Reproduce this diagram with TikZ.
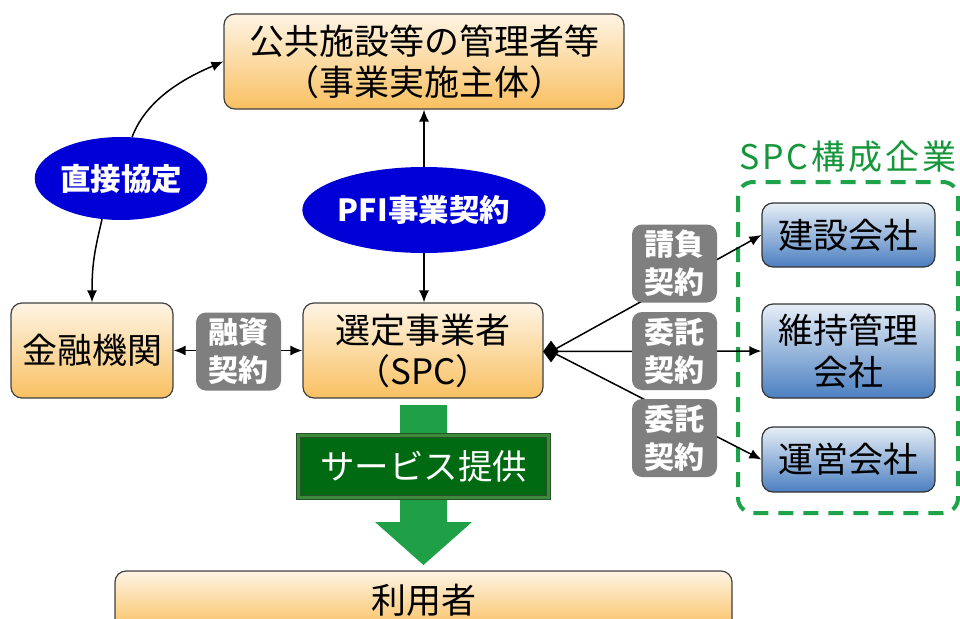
\documentclass[tikz,border=0pt]{standalone}
\usepackage{fontspec}
\setmainfont{Noto Sans CJK JP}
\usetikzlibrary{shapes.geometric,arrows.meta}
\definecolor{orTop}{HTML}{FEF4E4}
\definecolor{orBot}{HTML}{F9C061}
\definecolor{blTop}{HTML}{E6EEF7}
\definecolor{blBot}{HTML}{4B7FC0}
\definecolor{ellBlue}{HTML}{0000D6}
\definecolor{lblGray}{HTML}{7F7F7F}
\definecolor{dashGreen}{HTML}{1EA34B}
\definecolor{arrGreen}{HTML}{1FA047}
\definecolor{boxGreen}{HTML}{006A12}
\definecolor{bevGreen}{HTML}{3D8A3D}
\definecolor{txtGreen}{HTML}{15963A}
\tikzset{
  obox/.style={draw=black!75, line width=1.2pt, rounded corners=11pt, top color=orTop, bottom color=orBot,
    align=center, font=\fontsize{35}{41}\selectfont, inner sep=0pt},
  bbox/.style={draw=black!80, line width=1.2pt, rounded corners=11pt, top color=blTop, bottom color=blBot,
    align=center, font=\fontsize{35}{42}\selectfont, inner sep=0pt, minimum width=173pt},
  bell/.style={ellipse, fill=ellBlue, text=white, font=\bfseries\fontsize{30.5}{36}\selectfont, inner sep=0pt},
  glbl/.style={fill=lblGray, rounded corners=10pt, text=white, align=center,
    font=\bfseries\fontsize{30}{38}\selectfont, minimum width=85pt, minimum height=78pt, inner sep=0pt},
  conn/.style={line width=1.5pt, draw=black},
  arrtip/.style={-{Latex[length=12pt,width=10pt]}},
  arrboth/.style={{Latex[length=12pt,width=10pt]}-{Latex[length=12pt,width=10pt]}}
}
\begin{document}
\begin{tikzpicture}[x=1pt,y=-1pt]
\useasboundingbox (0,0) rectangle (960,618);
\clip (0,0) rectangle (960,618);
\fill[white] (0,0) rectangle (960,618);

% main boxes
\node[obox, minimum width=400pt, minimum height=95pt] (top) at (424,61.5) {公共施設等の管理者等\\（事業実施主体）};
\node[obox, minimum width=162pt, minimum height=95pt] (kin) at (92,350.5) {金融機関};
\node[obox, minimum width=240pt, minimum height=95pt] (spc) at (423,350.5) {選定事業者\\（SPC）};
\node[obox, minimum width=617pt, minimum height=59pt] (user) at (423.5,600.5) {利用者};

% SPC member group
\node[text=txtGreen, font=\fontsize{34}{40}\selectfont\addfontfeature{LetterSpace=9}, inner sep=0pt] (grp) at (848,157) {SPC構成企業};
\draw[dashGreen, line width=4pt, dash pattern=on 15pt off 10pt, rounded corners=15pt] (738,182) rectangle (958,513);
\node[bbox, minimum height=64pt] (ken) at (848.5,235) {建設会社};
\node[bbox, minimum height=94pt] (iji) at (848.5,351) {維持管理\\会社};
\node[bbox, minimum height=65pt] (unei) at (848.5,459.5) {運営会社};

% service arrow
\fill[arrGreen] (400,405) -- (447,405) -- (447,522) -- (472,522) -- (423.5,565) -- (375,522) -- (400,522) -- cycle;
\node[fill=boxGreen, draw=black!40!bevGreen, double=bevGreen, double distance=3pt, line width=1pt,
  minimum width=250pt, minimum height=62pt, inner sep=0pt,
  text=white, font=\fontsize{34.5}{40}\selectfont] (svc) at (423.5,466.5) {サービス提供};

% ellipse 1 and curved connectors
\node[bell, minimum width=172pt, minimum height=83pt] (e1) at (121,178.5) {直接協定};
\draw[conn, arrtip] (e1.75) .. controls +(15,-40) and +(-35,15) .. (top.west);
\draw[conn, arrtip] (e1.245) .. controls +(-7,30) and +(0,-40) .. (kin.north);

% vertical contract arrow
\draw[conn, arrboth] (top.south) -- (top.south |- spc.north);
\node[bell, minimum width=225pt, minimum height=86pt] (e2) at (424,210) {PFI事業契約};

% finance contract
\draw[conn, arrboth] (kin.east) -- (spc.west);
\node[glbl] (l1) at (238.5,351.5) {融資\\契約};

% contracts to member companies
\node[diamond, fill=black, minimum width=16pt, minimum height=22pt, inner sep=0pt] (dia) at (551,351.5) {};
\draw[conn, arrtip] (dia.center) -- (ken.west);
\draw[conn, arrtip] (dia.center) -- (iji.west);
\draw[conn, arrtip] (dia.center) -- (unei.west);
\node[glbl] (l2) at (674.5,263.5) {請負\\契約};
\node[glbl] (l3) at (674.5,351) {委託\\契約};
\node[glbl] (l4) at (674.5,438) {委託\\契約};
\end{tikzpicture}
\end{document}
